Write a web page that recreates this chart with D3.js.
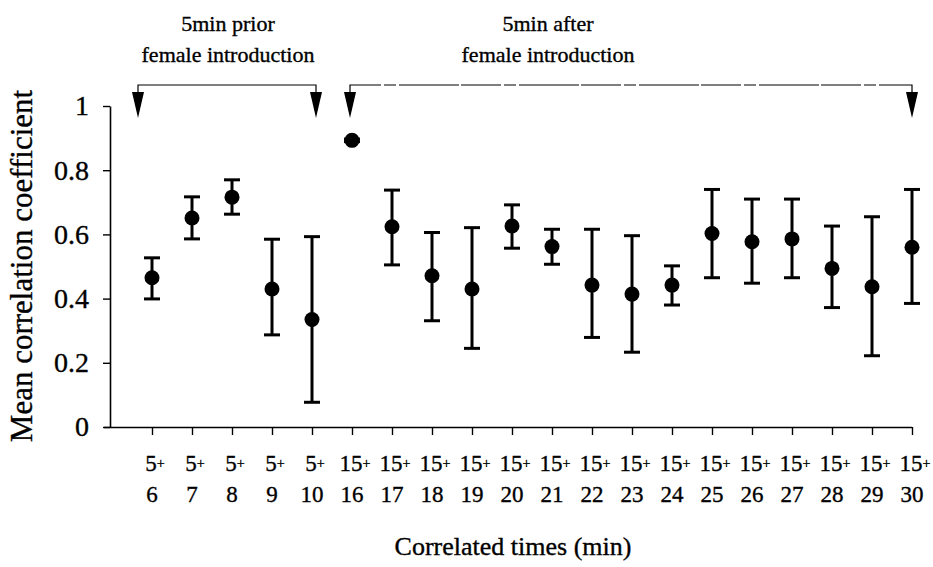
<!DOCTYPE html>
<html><head><meta charset="utf-8">
<script src="https://cdn.jsdelivr.net/npm/d3@7"></script>
<style>body{margin:0;background:#fff}svg{display:block}text{stroke:#000;stroke-width:0.35px}</style>
</head><body>
<svg id="c" width="933" height="567"></svg>
<script>
const firstMin = [5,5,5,5,5,15,15,15,15,15,15,15,15,15,15,15,15,15,15,15];
const secondMin = [6,7,8,9,10,16,17,18,19,20,21,22,23,24,25,26,27,28,29,30];
const means = [0.465,0.651,0.716,0.430,0.335,0.893,0.624,0.471,0.430,0.626,0.562,0.442,0.414,0.442,0.603,0.577,0.586,0.494,0.437,0.560];
const upper = [0.527,0.717,0.770,0.585,0.593,0.897,0.738,0.606,0.621,0.692,0.616,0.616,0.596,0.502,0.740,0.710,0.710,0.626,0.655,0.740];
const lower = [0.399,0.586,0.663,0.287,0.077,0.889,0.505,0.331,0.245,0.557,0.507,0.279,0.233,0.380,0.465,0.448,0.465,0.372,0.222,0.385];
const yTicks = [0,0.2,0.4,0.6,0.8,1];
const groupTitles = [["5min prior","female introduction"],["5min after","female introduction"]];

const svg = d3.select("#c");
const font = "'Liberation Serif','Times New Roman',serif";
const idx = d3.range(means.length);
const x = d3.scaleLinear().domain([-1.05,19]).range([110,912]);
const y = d3.scaleLinear().domain([0,1]).range([427,106]);

// axes
const gx = svg.append("g").attr("transform","translate(0,427)")
  .call(d3.axisBottom(x).tickValues(idx).tickFormat("").tickSize(8).tickSizeOuter(0));
gx.select(".domain").attr("stroke","#000").attr("stroke-width",1.6).attr("d","M104,0.5H912");
gx.selectAll(".tick line").attr("stroke","#000").attr("stroke-width",1.4);

const gy = svg.append("g").attr("transform","translate(110,0)")
  .call(d3.axisLeft(y).tickValues(yTicks).tickFormat(d=>d===0||d===1?d3.format("d")(d):d3.format(".1f")(d)).tickSize(7).tickSizeOuter(0));
gy.select(".domain").attr("stroke","#000").attr("stroke-width",1.6);
gy.selectAll(".tick line").attr("stroke","#000").attr("stroke-width",1.4);
gy.selectAll(".tick text").attr("font-family",font).attr("font-size",28).attr("fill","#000").attr("x",-21);

// x labels
const xl = svg.append("g").attr("font-family",font).attr("fill","#000");
idx.forEach(i=>{
  const t1 = xl.append("text").attr("x",x(i)+3).attr("y",471).attr("text-anchor","middle").attr("font-size",23);
  t1.append("tspan").text(firstMin[i]);
  t1.append("tspan").attr("font-size",14).attr("dy",-3).text("+");
  xl.append("text").attr("x",x(i)).attr("y",502).attr("text-anchor","middle").attr("font-size",23).text(secondMin[i]);
});

// axis titles
svg.append("text").attr("x",513).attr("y",555).attr("text-anchor","middle")
  .attr("font-family",font).attr("font-size",26).text("Correlated times (min)");
svg.append("text").attr("transform","translate(32,266) rotate(-90)").attr("text-anchor","middle")
  .attr("font-family",font).attr("font-size",31).text("Mean correlation coefficient");

// error bars
const eb = svg.append("g").attr("stroke","#000").attr("stroke-width",3);
idx.forEach(i=>{
  eb.append("line").attr("x1",x(i)).attr("x2",x(i)).attr("y1",y(upper[i])).attr("y2",y(lower[i]));
  eb.append("line").attr("x1",x(i)-8).attr("x2",x(i)+8).attr("y1",y(upper[i])).attr("y2",y(upper[i]));
  eb.append("line").attr("x1",x(i)-8).attr("x2",x(i)+8).attr("y1",y(lower[i])).attr("y2",y(lower[i]));
});
svg.append("g").selectAll("circle").data(idx).join("circle")
  .attr("cx",i=>x(i)).attr("cy",i=>y(means[i])).attr("r",7.5).attr("fill","#000");

// brackets
const brackets = [[-0.35,4.1],[4.95,19]];
const by = 85;
brackets.forEach((b,k)=>{
  const g = svg.append("g");
  const xa = x(b[0]), xb = x(b[1]);
  g.append("path").attr("d",`M${xa},${by+9}V${by}H${xb}V${by+9}`).attr("fill","none").attr("stroke","#000")
    .attr("stroke-width",1.2).attr("stroke-dasharray",k===1?"40,3,12,3,60,2":null);
  [xa,xb].forEach(xx=>{
    g.append("path").attr("d",`M${xx-6},${by+7}L${xx+6},${by+7}L${xx},${by+33}Z`).attr("fill","#000");
  });
  const cx = k===0 ? 228 : 548;
  g.append("text").attr("x",cx).attr("y",31).attr("text-anchor","middle").attr("font-family",font).attr("font-size",22).text(groupTitles[k][0]);
  g.append("text").attr("x",cx).attr("y",62).attr("text-anchor","middle").attr("font-family",font).attr("font-size",22).text(groupTitles[k][1]);
});
</script>
</body></html>
